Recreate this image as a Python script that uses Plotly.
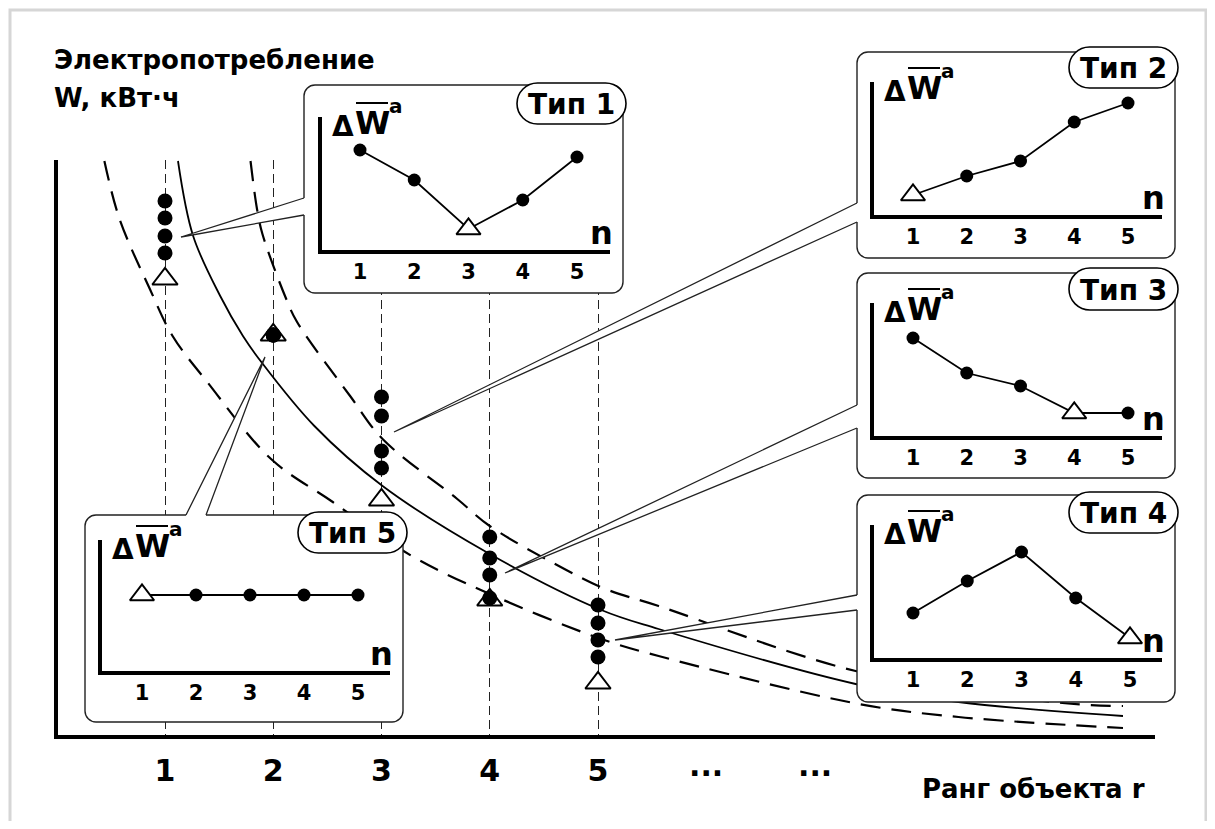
"""Electricity consumption vs object rank, with the five profile types."""

import plotly.graph_objects as go

# ---- main chart: consumption W against object rank r ----
RANKS = [1, 2, 3, 4, 5]
RANK_LABELS = ['1', '2', '3', '4', '5']
# filled dots for every rank (the other months) and the open triangle
DOTS_W = [
    [5.36, 5.19, 5.01, 4.84],
    [4.02, 4.02, 4.02, 4.02],
    [3.40, 3.21, 2.86, 2.69],
    [2.00, 1.79, 1.62, 1.39],
    [1.32, 1.14, 0.97, 0.80],
]
TRIANGLE_W = [4.58, 4.02, 2.37, 1.37, 0.54]

# rank-distribution curve and the two dashed bounds
SOLID_R = [1.12, 1.26, 1.51, 1.72, 1.89, 2.38, 3.01, 4.0, 5.03, 5.56, 7.38, 8.33, 9.85]
SOLID_W = [5.76, 5.01, 4.41, 4.01, 3.75, 3.11, 2.51, 1.83, 1.27, 1.08, 0.53, 0.35, 0.21]
UPPER_R = [1.79, 1.85, 1.90, 2.12, 2.22, 2.71, 3.01, 3.70, 4.0, 4.69, 5.07, 5.56, 7.38, 9.29, 9.85]
UPPER_W = [5.76, 5.28, 5.03, 4.38, 4.15, 3.41, 2.98, 2.38, 2.11, 1.68, 1.48, 1.31, 0.66, 0.34, 0.31]
LOWER_R = [0.44, 0.58, 0.86, 1.07, 1.39, 1.98, 2.55, 3.28, 4.0, 5.03, 5.56, 7.41, 8.33, 9.85]
LOWER_W = [5.76, 5.18, 4.48, 4.01, 3.55, 2.78, 2.35, 1.81, 1.43, 0.98, 0.81, 0.33, 0.20, 0.09]

# ---- inset charts: deviation dW against n ----
N = [1, 2, 3, 4, 5]
TYPE_NAMES = ['Тип 1', 'Тип 2', 'Тип 3', 'Тип 4', 'Тип 5']
TYPE1_DW = [10.2, 7.2, 2.3, 5.2, 9.5]
TYPE2_DW = [2.2, 4.1, 5.6, 9.5, 11.4]
TYPE3_DW = [10.0, 6.5, 5.2, 2.5, 2.5]
TYPE4_DW = [4.7, 7.9, 10.8, 6.2, 2.2]
TYPE5_DW = [7.8, 7.8, 7.8, 7.8, 7.8]
TYPE_MARKED = [3, 1, 4, 5, 1]  # the n drawn as an open triangle

# ---- page geometry (pixels of the reference picture) ----
FIG_W, FIG_H, OFF = 1199, 813, 8
FONT = 'DejaVu Sans'
R0_PX, R_PX = 56.75, 108.25   # r = 0 position and px per rank
W0_PY, W_PX = 737, 100        # W = 0 position and px per unit
DW_PX = 10                    # px per inset unit

INSETS = [
    dict(box=(304, 85, 623, 293), pill=(517, 83, 626, 124),
         axis=(320, 252, 610, 117), n_px=(360, 577),
         tail=((304, 198), (304, 215), (181, 237))),
    dict(box=(857, 52, 1175, 258), pill=(1069, 47, 1178, 88),
         axis=(872, 217, 1162, 82), n_px=(913, 1128),
         tail=((857, 203), (857, 222), (394, 432))),
    dict(box=(857, 273, 1175, 478), pill=(1069, 268, 1178, 310),
         axis=(872, 438, 1162, 303), n_px=(913, 1128),
         tail=((857, 405), (857, 428), (505, 573))),
    dict(box=(857, 495, 1175, 702), pill=(1069, 492, 1178, 533),
         axis=(872, 660, 1162, 525), n_px=(913, 1130),
         tail=((857, 595), (857, 610), (615, 640))),
    dict(box=(85, 515, 403, 722), pill=(298, 512, 407, 553),
         axis=(100, 673, 390, 540), n_px=(142, 358),
         tail=((186, 515), (206, 515), (265, 357))),
]
TYPE_DW = [TYPE1_DW, TYPE2_DW, TYPE3_DW, TYPE4_DW, TYPE5_DW]


def fx(x):
  return (x - OFF) / FIG_W


def fy(y):
  return 1 - (y - OFF) / FIG_H


def rounded_rect(l, t, r, b, rad):
  """SVG path of a rounded rectangle in page pixels."""
  k = 0.5523 * rad
  return (f'M{l + rad},{t} L{r - rad},{t} '
          f'C{r - rad + k},{t} {r},{t + rad - k} {r},{t + rad} '
          f'L{r},{b - rad} '
          f'C{r},{b - rad + k} {r - rad + k},{b} {r - rad},{b} '
          f'L{l + rad},{b} '
          f'C{l + rad - k},{b} {l},{b - rad + k} {l},{b - rad} '
          f'L{l},{t + rad} '
          f'C{l},{t + rad - k} {l + rad - k},{t} {l + rad},{t} Z')


def text(x, y, s, size, anchor='center', weight='bold'):
  return dict(x=x, y=y, xref='x2', yref='y2', text=s, showarrow=False,
              xanchor=anchor, yanchor='middle',
              font=dict(family=FONT, size=size, color='black',
                        weight=weight))


fig = go.Figure()

# curves
fig.add_trace(go.Scatter(
    x=LOWER_R, y=LOWER_W, mode='lines', line_shape='spline',
    line=dict(color='black', width=2.2, dash='20px,11px')))
fig.add_trace(go.Scatter(
    x=UPPER_R, y=UPPER_W, mode='lines', line_shape='spline',
    line=dict(color='black', width=2.2, dash='20px,11px')))
fig.add_trace(go.Scatter(
    x=SOLID_R, y=SOLID_W, mode='lines', line_shape='spline',
    line=dict(color='black', width=1.8)))

# triangles first so that the dots sit on top of them
fig.add_trace(go.Scatter(
    x=RANKS, y=TRIANGLE_W, mode='markers', cliponaxis=False,
    marker=dict(symbol='triangle-up', size=22, color='white', opacity=1,
                line=dict(color='black', width=2))))
dot_r = [r for r, ws in zip(RANKS, DOTS_W) for _ in ws]
dot_w = [w for ws in DOTS_W for w in ws]
fig.add_trace(go.Scatter(
    x=dot_r, y=dot_w, mode='markers', cliponaxis=False,
    marker=dict(symbol='circle', size=15, color='black', opacity=1)))

# overlay subplot in page pixels: holds frames, tails and labels
fig.add_trace(go.Scatter(x=[], y=[], xaxis='x2', yaxis='y2'))

shapes = []
annotations = []

# light page frame
shapes.append(dict(type='path', xref='x2', yref='y2', layer='below',
                   path=f'M10,{OFF + FIG_H + 5} L10,10 L1206,10 '
                        f'L1206,{OFF + FIG_H + 5}',
                   line=dict(color='#d6d6d6', width=3)))

layout_axes = {}
for i, (ins, name, dw, mark) in enumerate(
    zip(INSETS, TYPE_NAMES, TYPE_DW, TYPE_MARKED)):
  ax_id = i + 3
  l, t, r, b = ins['box']
  ax_x, ax_y, ax_r, ax_t = ins['axis']
  n1, n5 = ins['n_px']
  per_n = (n5 - n1) / 4

  # frame with a white tail pointing at the object
  shapes.append(dict(type='path', xref='x2', yref='y2', layer='below',
                     path=rounded_rect(l, t, r, b, 11),
                     fillcolor='white', line=dict(color='#222', width=1.4)))
  (x1, y1), (x2, y2), (tx, ty) = ins['tail']
  dx, dy = (2, 0) if x1 == x2 else (0, 2)
  shapes.append(dict(type='path', xref='x2', yref='y2', layer='below',
                     path=(f'M{tx},{ty} L{x1},{y1} L{x1 + dx},{y1 + dy} '
                           f'L{x2 + dx},{y2 + dy} L{x2},{y2} Z'),
                     fillcolor='white', line=dict(width=0)))
  shapes.append(dict(type='path', xref='x2', yref='y2', layer='below',
                     path=f'M{x1},{y1} L{tx},{ty} L{x2},{y2}',
                     line=dict(color='#222', width=1.3)))

  # "Тип N" badge
  pl, pt, pr, pb = ins['pill']
  shapes.append(dict(type='path', xref='x2', yref='y2', layer='below',
                     path=rounded_rect(pl, pt, pr, pb, (pb - pt) / 2),
                     fillcolor='white', line=dict(color='black', width=1.6)))
  annotations.append(text((pl + pr) / 2, (pt + pb) / 2 + 1, name, 28))

  # axis title: delta, W with a bar, superscript a
  annotations.append(text(ax_x + 23, ax_t + 9, 'Δ', 28))
  annotations.append(text(ax_x + 52, ax_t + 6, 'W', 32))
  shapes.append(dict(type='line', xref='x2', yref='y2', layer='below',
                     x0=ax_x + 36, x1=ax_x + 68, y0=ax_t - 14, y1=ax_t - 14,
                     line=dict(color='black', width=2)))
  annotations.append(text(ax_x + 76, ax_t - 11, 'a', 20))
  annotations.append(text(ax_r - 9, ax_y - 19, 'n', 32))

  layout_axes[f'xaxis{ax_id}'] = dict(
      domain=[fx(ax_x + 2), fx(ax_r)],
      range=[1 + (ax_x + 2 - n1) / per_n, 1 + (ax_r - n1) / per_n],
      anchor=f'y{ax_id}', showline=True, linecolor='black', linewidth=4,
      ticks='', tickvals=N, ticktext=[str(n) for n in N],
      tickfont=dict(family=FONT, size=21, color='black', weight='bold'),
      ticklabelstandoff=0,
      showgrid=False, zeroline=False, fixedrange=True)
  layout_axes[f'yaxis{ax_id}'] = dict(
      domain=[fy(ax_y - 2), fy(ax_t)],
      range=[2 / DW_PX, (ax_y - ax_t) / DW_PX],
      anchor=f'x{ax_id}', showline=True, linecolor='black', linewidth=4,
      showticklabels=False, ticks='', showgrid=False, zeroline=False,
      fixedrange=True)

  marked = [n == mark for n in N]
  fig.add_trace(go.Scatter(
      x=N, y=dw, mode='lines+markers', cliponaxis=False,
      xaxis=f'x{ax_id}', yaxis=f'y{ax_id}',
      line=dict(color='black', width=1.8),
      marker=dict(symbol=['triangle-up' if m else 'circle' for m in marked],
                  size=[21 if m else 13 for m in marked],
                  color=['white' if m else 'black' for m in marked],
                  opacity=1,
                  line=dict(color='black',
                            width=[2 if m else 0 for m in marked]))))

# main titles and the "..." ranks
annotations.append(text(52, 60, 'Электропотребление', 26, anchor='left'))
annotations.append(text(52, 98, 'W, кВт·ч', 26, anchor='left'))
annotations.append(text(920, 789, 'Ранг объекта r', 26, anchor='left'))
annotations.append(text(R0_PX + 6 * R_PX, 765, '...', 30))
annotations.append(text(R0_PX + 7 * R_PX, 765, '...', 30))

fig.update_layout(
    width=FIG_W, height=FIG_H,
    margin=dict(l=0, r=0, t=0, b=0, pad=0),
    paper_bgcolor='white', plot_bgcolor='rgba(0,0,0,0)',
    showlegend=False,
    xaxis=dict(
        domain=[fx(58), fx(1155)],
        range=[(58 - R0_PX) / R_PX, (1155 - R0_PX) / R_PX],
        showline=True, linecolor='black', linewidth=4,
        ticks='', tickvals=RANKS, ticktext=RANK_LABELS,
        tickfont=dict(family=FONT, size=30, color='black', weight='bold'),
        ticklabelstandoff=6,
        showgrid=True, gridcolor='#222', gridwidth=1.2, griddash='9px,5px',
        zeroline=False, fixedrange=True),
    yaxis=dict(
        domain=[fy(735), fy(160)],
        range=[(W0_PY - 735) / W_PX, (W0_PY - 160) / W_PX],
        showline=True, linecolor='black', linewidth=4,
        showticklabels=False, ticks='', showgrid=False, zeroline=False,
        fixedrange=True),
    xaxis2=dict(domain=[0, 1], range=[OFF, OFF + FIG_W], anchor='y2',
                visible=False, fixedrange=True),
    yaxis2=dict(domain=[0, 1], range=[OFF + FIG_H, OFF], anchor='x2',
                visible=False, fixedrange=True),
    shapes=shapes,
    annotations=annotations,
    **layout_axes,
)

fig.write_html('out.html')
